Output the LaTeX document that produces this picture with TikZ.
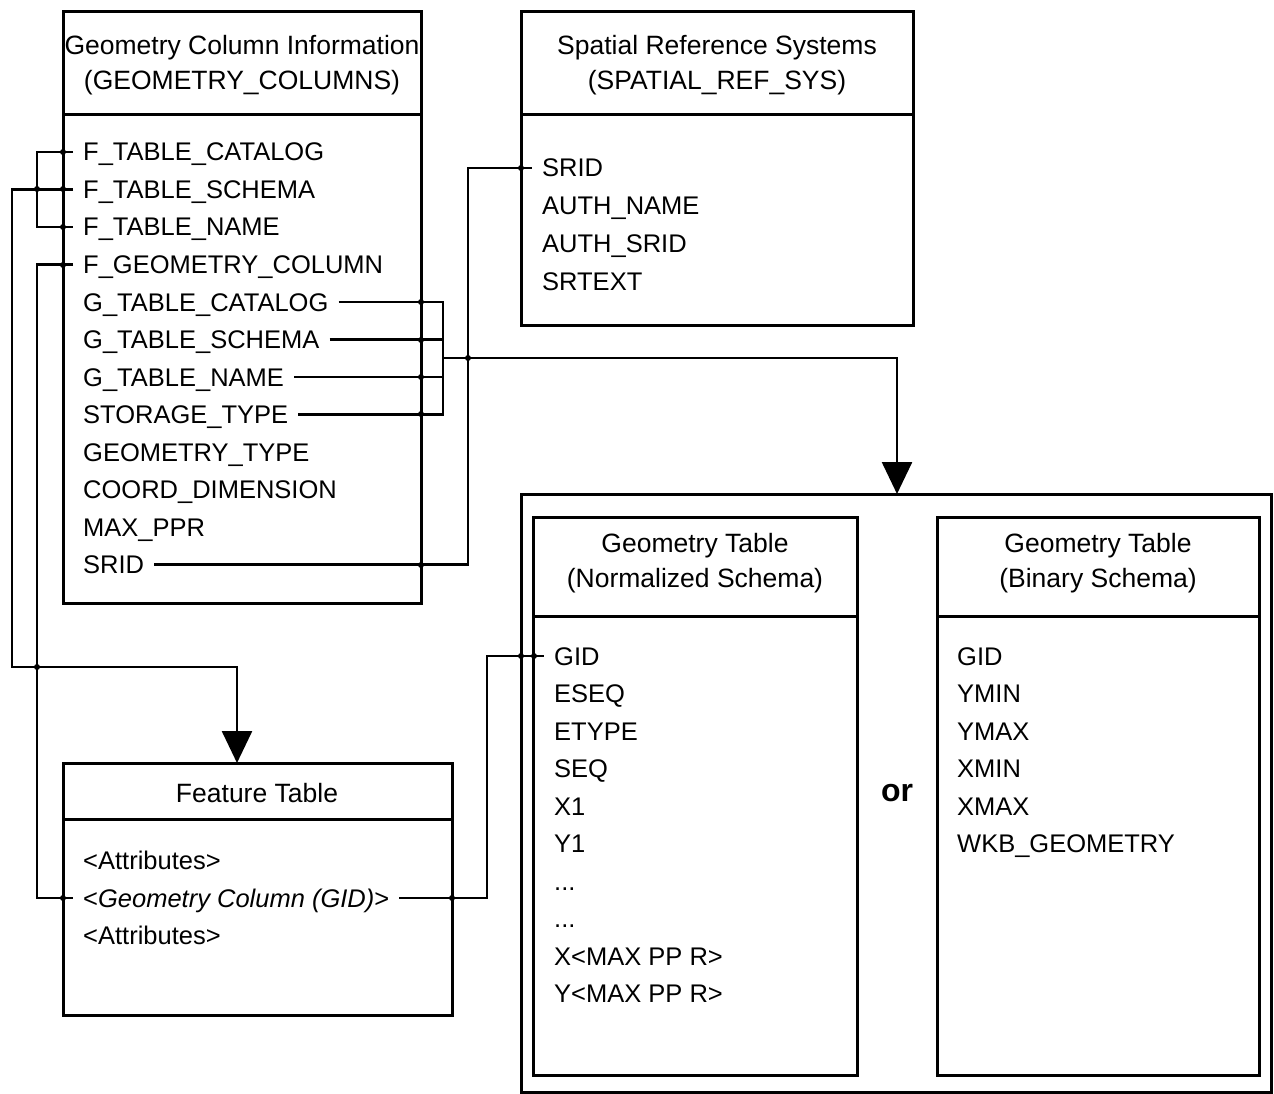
\documentclass[tikz,border=0pt]{standalone}
\usepackage{fontspec}
\setmainfont{Liberation Sans}
\usetikzlibrary{arrows.meta,positioning}

\newcommand{\fieldfont}{\fontsize{25.5}{30}\selectfont}
\newcommand{\titlefont}{\fontsize{26.5}{35}\selectfont}
\newcommand{\morefields}{...}

\tikzset{
	tbl/.style={draw, line width=3pt},
	fld/.style={anchor=west, inner xsep=10pt, inner ysep=0pt, text height=18pt, text depth=0pt, font=\fieldfont},
	ttl/.style={align=center, font=\titlefont},
	link/.style={line width=2.6pt},
	arr/.style={link, -{Triangle[width=30pt,length=32pt]}},
}

\begin{document}
\begin{tikzpicture}[x=1pt,y=-1pt]
		\useasboundingbox (0,0) rectangle (1274,1094);
		
		% geometry columns table
		\draw[tbl] (63,12) rectangle (421,603);
		\draw[tbl] (63,115) -- (421,115);
		\node[ttl] (gctitle) at (242,65) {Geometry Column Information\\(GEOMETRY\_COLUMNS)};
		\foreach \name/\txt [count=\i] in {fcat/F\_TABLE\_CATALOG, fsch/F\_TABLE\_SCHEMA, fname/F\_TABLE\_NAME, fgeo/F\_GEOMETRY\_COLUMN, gcat/G\_TABLE\_CATALOG, gsch/G\_TABLE\_SCHEMA, gname/G\_TABLE\_NAME, stor/STORAGE\_TYPE, gtype/GEOMETRY\_TYPE, cdim/COORD\_DIMENSION, maxppr/MAX\_PPR, srid/SRID}
		\node[fld] (\name) at (73,{152+37.5*(\i-1)}) {\txt};
		
		% spatial reference systems
		\draw[tbl] (521,12) rectangle (913,325);
		\draw[tbl] (521,115) -- (913,115);
		\node[ttl] (srtitle) at (717,65) {Spatial Reference Systems\\(SPATIAL\_REF\_SYS)};
		\foreach \name/\txt [count=\i] in {ssrid/SRID, aname/AUTH\_NAME, asrid/AUTH\_SRID, srtext/SRTEXT}
		\node[fld] (\name) at (532,{168+37.7*(\i-1)}) {\txt};
		
		% feature table
		\draw[tbl] (63,763) rectangle (452,1015);
		\draw[tbl] (63,819) -- (452,819);
		\node[ttl] (fttitle) at (257,793) {Feature Table};
		\node[fld] (attra) at (73,860) {<Attributes>};
		\node[fld] (fgcol) at (73,898) {<\textit{Geometry Column (GID)}>};
		\node[fld] (attrb) at (73,935) {<Attributes>};
		
		% geometry tables
		\draw[tbl] (521,494) rectangle (1271,1092);
		\draw[tbl] (533,517) rectangle (857,1075);
		\draw[tbl] (533,616) -- (857,616);
		\draw[tbl] (937,517) rectangle (1259,1075);
		\draw[tbl] (937,616) -- (1259,616);
		\node[ttl] (ntitle) at (695,563) {Geometry Table\\(Normalized Schema)};
		\node[ttl] (btitle) at (1098,563) {Geometry Table\\(Binary Schema)};
		\foreach \name/\txt [count=\i] in {ngid/GID, eseq/ESEQ, etype/ETYPE, seq/SEQ, xa/X1, ya/Y1, dotsa/\morefields, dotsb/\morefields, xmaxppr/X<MAX PP R>, ymaxppr/Y<MAX PP R>}
		\node[fld] (\name) at (544,{656+37.5*(\i-1)}) {\txt};
		\foreach \name/\txt [count=\i] in {bgid/GID, ymin/YMIN, ymax/YMAX, xmin/XMIN, xmax/XMAX, wkb/WKB\_GEOMETRY}
		\node[fld] (\name) at (947,{656+37.5*(\i-1)}) {\txt};
		\node[font=\fontsize{32}{36}\selectfont\bfseries] (ortxt) at (897,793) {or};
		
		% bend points
		\coordinate (lbend) at (12,667);
		\coordinate (featin) at (237,763);
		\coordinate (gbus) at (443,358);
		\coordinate (wrapin) at (897,494);
		\coordinate (srbend) at (468,168);
		\coordinate (gidbend) at (487,656);
		
		% connectors
		\draw[link] (fcat.west) -- ++(-36,0) |- (fname.west);
		\draw[arr] (fsch.west) -| (lbend) -| (featin);
		\draw[link] (fgeo.west) -- ++(-36,0) |- (fgcol.west);
		\draw[link] (gcat.east) -| (gbus) |- (stor.east);
		\draw[link] (gsch.east) -- (gsch.east -| gbus);
		\draw[link] (gname.east) -- (gname.east -| gbus);
		\draw[arr] (gbus) -| (wrapin);
		\draw[link] (srid.east) -| (srbend) -- (ssrid.west);
		\draw[link] (fgcol.east) -| (gidbend) -- (ngid.west);
		
		% junction dots
		\foreach \x/\y in {63/152, 63/189, 63/227, 63/265, 37/189, 37/667, 63/898, 421/302, 421/340, 421/377, 421/414, 421/565, 468/358, 521/168, 452/898, 521/656, 534/656}
		\fill (\x,\y) circle (3pt);
\end{tikzpicture}
\end{document}
